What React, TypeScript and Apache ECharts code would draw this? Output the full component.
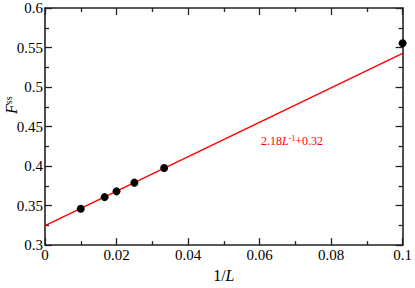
import React, { useEffect, useRef } from "react";
import * as echarts from "echarts";

const invL = [0.01, 1 / 60, 0.02, 0.025, 1 / 30, 0.1];
const fss = [0.346, 0.3607, 0.368, 0.379, 0.3975, 0.5555];
const fitX = [0, 0.1];
const fitY = [0.3245, 0.5425];
const xTicks = ["0", "0.02", "0.04", "0.06", "0.08", "0.1"];
const yTicks = ["0.3", "0.35", "0.4", "0.45", "0.5", "0.55", "0.6"];

const FONT = "Liberation Serif";

export default function App() {
  const ref = useRef<HTMLDivElement>(null);
  useEffect(() => {
    if (!ref.current) return;
    const chart = echarts.init(ref.current, undefined, { renderer: "svg" });
    const mk = () => ({
      axisLine: { show: true, onZero: false, lineStyle: { color: "#222", width: 1.6 } },
      axisTick: { show: true, inside: true, length: 7, lineStyle: { color: "#222", width: 1.3 } },
      minorTick: { show: true, splitNumber: 2, length: 4, lineStyle: { color: "#222", width: 1.3 } },
      splitLine: { show: false },
      minorSplitLine: { show: false },
    });
    const fmtX = (v: number) => {
      const s = String(+v.toFixed(2));
      return xTicks.includes(s) ? s : "";
    };
    const fmtY = (v: number) => {
      const s = String(+v.toFixed(2));
      return yTicks.includes(s) ? s : "";
    };
    const xRange = { type: "value", min: 0, max: 0.1, interval: 0.02 };
    const yRange = { type: "value", min: 0.3, max: 0.6, interval: 0.05 };
    chart.setOption({
      animation: false,
      backgroundColor: "#fff",
      textStyle: { fontFamily: FONT },
      grid: { left: 45, right: 8, top: 5, bottom: 31, containLabel: false },
      xAxis: [
        {
          ...xRange,
          ...mk(),
          position: "bottom",
          axisLabel: {
            show: true,
            formatter: fmtX,
            fontFamily: FONT,
            fontSize: 15,
            color: "#000",
            margin: 2,
          },
          name: "{n|1/}{i|L}",
          nameLocation: "middle",
          nameGap: 19,
          nameTextStyle: {
            rich: {
              n: { fontFamily: FONT, fontSize: 16, color: "#000" },
              i: { fontFamily: FONT, fontSize: 16, fontStyle: "italic", color: "#000" },
            },
          },
        },
        {
          ...xRange,
          ...mk(),
          position: "top",
          axisLabel: { show: true, formatter: () => "" },
        },
      ],
      yAxis: [
        {
          ...yRange,
          ...mk(),
          position: "left",
          axisLabel: {
            show: true,
            formatter: fmtY,
            fontFamily: FONT,
            fontSize: 15,
            color: "#000",
            margin: 2,
          },
        },
        {
          ...yRange,
          ...mk(),
          position: "right",
          axisLabel: { show: true, formatter: () => "" },
        },
      ],
      graphic: [
        {
          type: "text",
          x: 3,
          y: 114,
          rotation: Math.PI / 2,
          style: {
            text: "{i|F}{s|ss}",
            rich: {
              i: { fontFamily: FONT, fontSize: 16, fontStyle: "italic", fill: "#000", lineHeight: 16 },
              s: { fontFamily: FONT, fontSize: 10, fill: "#000", verticalAlign: "top", lineHeight: 16 },
            },
            align: "left",
            verticalAlign: "top",
          },
        },
        {
          type: "text",
          x: 261,
          y: 134,
          style: {
            text: "{n|2.18}{i|L}{s|-1}{n|+0.32}",
            rich: {
              n: { fontFamily: FONT, fontSize: 12, fill: "#ff0000", lineHeight: 14 },
              i: { fontFamily: FONT, fontSize: 12, fontStyle: "italic", fill: "#ff0000", lineHeight: 14 },
              s: { fontFamily: FONT, fontSize: 8, fill: "#ff0000", verticalAlign: "top", lineHeight: 14 },
            },
            align: "left",
            verticalAlign: "top",
          },
        },
      ],
      series: [
        {
          type: "line",
          data: fitX.map((x, i) => [x, fitY[i]]),
          showSymbol: false,
          symbol: "none",
          lineStyle: { color: "#ff0000", width: 1.4 },
          z: 2,
        },
        {
          type: "scatter",
          data: invL.map((x, i) => [x, fss[i]]),
          symbol: "circle",
          symbolSize: 8,
          itemStyle: { color: "#000", opacity: 1 },
          z: 3,
        },
      ],
    });
    return () => chart.dispose();
  }, []);
  return (
    <div
      ref={ref}
      style={{ position: "fixed", left: 0, top: 0, width: 415, height: 288 }}
    />
  );
}
